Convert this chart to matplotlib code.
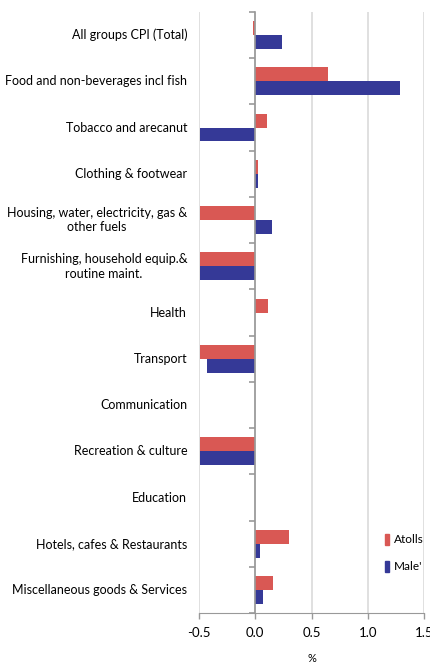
import matplotlib.pyplot as plt
import matplotlib.transforms as mtransforms
from matplotlib.patches import Patch

categories = [
    "All groups CPI (Total)",
    "Food and non-beverages incl fish",
    "Tobacco and arecanut",
    "Clothing & footwear",
    "Housing, water, electricity, gas &\nother fuels",
    "Furnishing, household equip.&\nroutine maint.",
    "Health",
    "Transport",
    "Communication",
    "Recreation & culture",
    "Education",
    "Hotels, cafes & Restaurants",
    "Miscellaneous goods & Services",
]
atolls = [-0.02, 0.65, 0.10, 0.02, -0.49, -0.49, 0.11, -0.49, 0.0, -0.49, 0.0, 0.30, 0.16]
male = [0.24, 1.29, -0.49, 0.02, 0.145, -0.49, 0.0, -0.43, 0.0, -0.49, 0.0, 0.04, 0.065]
xticks = [-0.5, 0.0, 0.5, 1.0, 1.5]

RED = "#D95854"
BLUE = "#353997"
plt.rcParams['font.family'] = ['Lato', 'DejaVu Sans']

fig = plt.figure(figsize=(4.3, 6.65), dpi=100)
ax = fig.add_axes([0.463, 0.078, 0.523, 0.904])

pos = list(range(len(categories)))
h = 0.3
ax.barh([p - h / 2 for p in pos], atolls, height=h, color=RED, label="Atolls", zorder=3)
ax.barh([p + h / 2 for p in pos], male, height=h, color=BLUE, label="Male'", zorder=3)

ax.set_ylim(len(categories) - 0.5, -0.5)
ax.set_xlim(-0.5, 1.5)
ax.set_xticks(xticks)
ax.set_xticklabels(["%.1f" % t for t in xticks], fontsize=9.5)
ax.grid(axis='x', color='#E0E0E0', linewidth=1.4, zorder=0)

# y axis line at zero with ticks at category boundaries
ax.spines['left'].set_position(('data', 0))
ax.spines['left'].set_color('#999999')
ax.spines['left'].set_linewidth(1.2)
ax.spines['left'].set_zorder(4)
ax.set_yticks([p - 0.5 for p in pos] + [len(categories) - 0.5])
ax.set_yticklabels([])
ax.tick_params(axis='y', length=4, color='#999999', width=1.2)
ax.spines['right'].set_visible(False)
ax.spines['top'].set_visible(False)
ax.spines['bottom'].set_color('#999999')
ax.tick_params(axis='x', length=4, color='#999999', width=1.0, pad=6)

trans = mtransforms.blended_transform_factory(ax.transAxes, ax.transData)
for p, c in zip(pos, categories):
    ax.text(-0.053, p, c, transform=trans, ha='right', va='center',
            multialignment='center', fontsize=9, linespacing=1.25)

ax.set_xlabel("%", fontsize=8, labelpad=10)

handles = [Patch(color=RED), Patch(color=BLUE)]
ax.legend(handles, ["Atolls", "Male'"], loc='center left', bbox_to_anchor=(0.78, 0.10),
          frameon=False, handlelength=0.35, handleheight=1.1, handletextpad=0.4,
          labelspacing=1.3, fontsize=8.5)

fig.savefig("out.png", dpi=100)
